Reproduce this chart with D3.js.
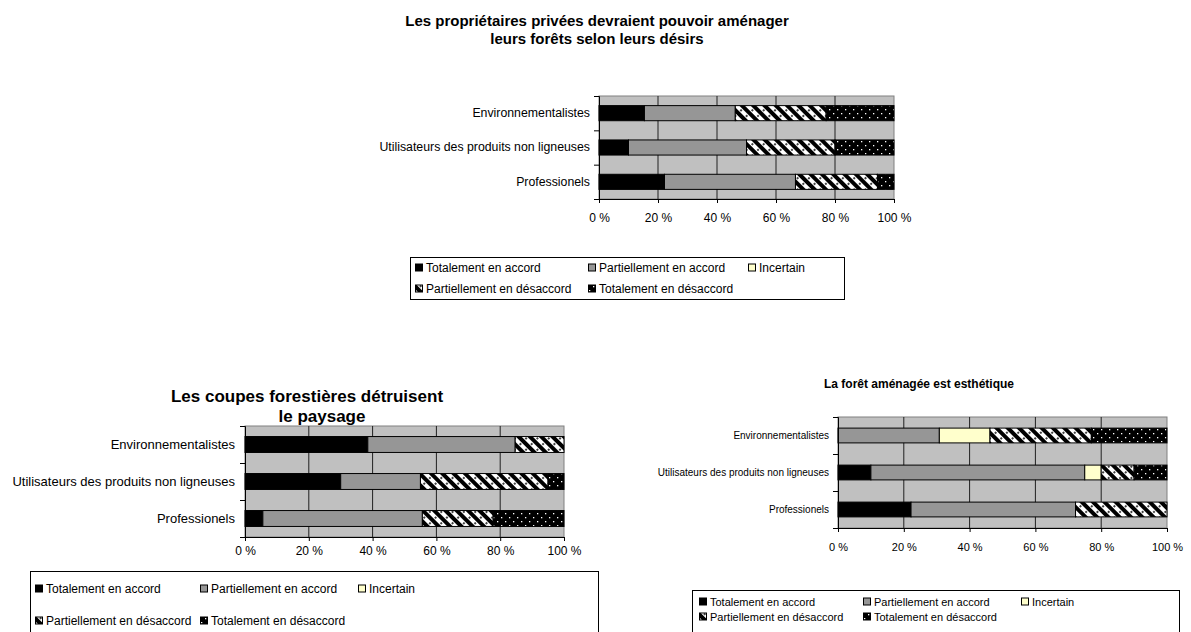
<!DOCTYPE html>
<html>
<head>
<meta charset="utf-8">
<script src="https://cdn.jsdelivr.net/npm/d3@7"></script>
<style>
  body { margin: 0; background: #fff; }
  svg { display: block; font-family: "Liberation Sans", Arial, sans-serif; }
  .domain { stroke: #000; }
  .tick line { stroke: #000; }
</style>
</head>
<body>
<script>
// Categories, series and tick labels
var categories = ["Environnementalistes", "Utilisateurs des produits non ligneuses", "Professionels"];
var seriesNames = ["Totalement en accord", "Partiellement en accord", "Incertain",
                   "Partiellement en désaccord", "Totalement en désaccord"];
var tickValues = [0, 20, 40, 60, 80, 100];
var tickLabels = ["0 %", "20 %", "40 %", "60 %", "80 %", "100 %"];

// Percent per category (same order as seriesNames)
var proprietairesValues = [
  [15.4, 30.8, 0, 30.8, 23.0],
  [10, 40, 0, 30, 20],
  [22.2, 44.4, 0, 27.8, 5.6]
];
var coupesValues = [
  [38.5, 46.2, 0, 15.3, 0],
  [30, 25, 0, 40, 5],
  [5.6, 50, 0, 22.2, 22.2]
];
var esthetiqueValues = [
  [0, 30.8, 15.4, 30.8, 23.0],
  [10, 65, 5, 10, 10],
  [22.2, 50, 0, 27.8, 0]
];

var svg = d3.select("body").append("svg")
  .attr("width", 1191)
  .attr("height", 632);

// fill patterns like the old Excel charts
var defs = svg.append("defs");
var hatch = defs.append("pattern")
  .attr("id", "hatch")
  .attr("patternUnits", "userSpaceOnUse")
  .attr("width", 8).attr("height", 8)
  .attr("patternTransform", "rotate(-45)");
hatch.append("rect").attr("width", 8).attr("height", 8).attr("fill", "#fff");
hatch.append("rect").attr("width", 4).attr("height", 8).attr("fill", "#000");
hatch.append("circle").attr("cx", 6).attr("cy", 2).attr("r", 1).attr("fill", "#000");

var dots = defs.append("pattern")
  .attr("id", "dots")
  .attr("patternUnits", "userSpaceOnUse")
  .attr("width", 8).attr("height", 8);
dots.append("rect").attr("width", 8).attr("height", 8).attr("fill", "#000");
dots.append("rect").attr("x", 1).attr("y", 1).attr("width", 1.3).attr("height", 1.3).attr("fill", "#fff");
dots.append("rect").attr("x", 5).attr("y", 5).attr("width", 1.3).attr("height", 1.3).attr("fill", "#fff");

var fills = ["#000000", "#969696", "#FFFFCC", "url(#hatch)", "url(#dots)"];

function drawChart(opt) {
  var x = d3.scaleLinear().domain([0, 100]).range([opt.left, opt.right]);
  var y = d3.scaleBand().domain(categories)
    .range([opt.top, opt.bottom])
    .paddingInner(opt.pad).paddingOuter(opt.pad / 2);
  var yEdge = d3.scaleLinear().domain([0, categories.length]).range([opt.top, opt.bottom]);

  var g = svg.append("g");

  // plot background
  g.append("rect")
    .attr("x", opt.left).attr("y", opt.top)
    .attr("width", opt.right - opt.left).attr("height", opt.bottom - opt.top)
    .attr("fill", "#C0C0C0")
    .attr("stroke", "#808080");

  // vertical gridlines
  g.selectAll(".grid")
    .data(tickValues.slice(1, -1))
    .enter().append("line")
    .attr("x1", d => x(d)).attr("x2", d => x(d))
    .attr("y1", opt.top).attr("y2", opt.bottom)
    .attr("stroke", "#202020");

  // stacked bars
  var rows = opt.values.map(function(v, i) {
    var o = { cat: categories[i] };
    v.forEach((d, j) => o[j] = d);
    return o;
  });
  var stack = d3.stack().keys(d3.range(seriesNames.length))(rows);

  stack.forEach(function(layer, k) {
    g.selectAll(".s" + k)
      .data(layer.filter(d => d[1] - d[0] > 0))
      .enter().append("rect")
      .attr("x", d => x(d[0]))
      .attr("y", d => y(d.data.cat))
      .attr("width", d => x(d[1]) - x(d[0]))
      .attr("height", y.bandwidth())
      .attr("fill", fills[k])
      .attr("stroke", "#000")
      .attr("stroke-width", 1);
  });

  // x axis
  g.append("g")
    .attr("transform", `translate(0, ${opt.bottom})`)
    .call(d3.axisBottom(x).tickValues(tickValues)
      .tickFormat((d, i) => tickLabels[i]).tickSize(4).tickPadding(opt.tickPad))
    .call(a => a.selectAll("text").attr("font-size", opt.tickFont).attr("fill", "#000")
      .attr("font-family", "Liberation Sans, Arial, sans-serif"));

  // y axis line and ticks at category boundaries
  g.append("g")
    .attr("transform", `translate(${opt.left}, 0)`)
    .call(d3.axisLeft(yEdge).tickValues(d3.range(categories.length + 1)).tickFormat("").tickSize(5));

  // category labels
  g.append("g")
    .attr("transform", `translate(${opt.left}, 0)`)
    .call(d3.axisLeft(y).tickSize(0).tickPadding(opt.labelPad))
    .call(a => a.select(".domain").remove())
    .call(a => a.selectAll("text").attr("font-size", opt.labelFont).attr("fill", "#000")
      .attr("font-family", "Liberation Sans, Arial, sans-serif"));

  // title
  g.selectAll(".title")
    .data(opt.title)
    .enter().append("text")
    .attr("x", (d, i) => opt.titleX[i])
    .attr("y", (d, i) => opt.titleY[i])
    .attr("text-anchor", "middle")
    .attr("font-weight", "bold")
    .attr("font-size", opt.titleFont)
    .text(d => d);

  // legend: three items on the first row, two on the second
  var L = opt.legend;
  g.append("rect")
    .attr("x", L.x).attr("y", L.y).attr("width", L.w).attr("height", L.h)
    .attr("fill", "#fff").attr("stroke", "#000");
  var items = g.selectAll(".leg")
    .data(seriesNames)
    .enter().append("g")
    .attr("transform", function(d, i) {
      var col = i < 3 ? i : i - 3;
      var row = i < 3 ? 0 : 1;
      return `translate(${L.cols[col]}, ${L.rows[row]})`;
    });
  items.append("rect")
    .attr("x", 0.5).attr("y", -L.box / 2 - 0.5)
    .attr("width", L.box).attr("height", L.box)
    .attr("fill", (d, i) => fills[i])
    .attr("stroke", "#000");
  items.append("text")
    .attr("x", L.box + 4)
    .attr("dy", "0.35em")
    .attr("font-size", L.font)
    .text(d => d);
}

drawChart({
  values: proprietairesValues,
  left: 599, right: 894, top: 96, bottom: 199, pad: 0.56,
  tickFont: 12, tickPad: 10, labelFont: 12.3, labelPad: 9,
  title: ["Les propriétaires privées devraient pouvoir aménager", "leurs forêts selon leurs désirs"],
  titleX: [597, 597], titleY: [26, 44], titleFont: 15,
  legend: { x: 410.5, y: 257.5, w: 434, h: 42, cols: [415, 588, 748], rows: [268, 289], box: 7, font: 12 }
});

drawChart({
  values: coupesValues,
  left: 245, right: 564, top: 426, bottom: 537, pad: 0.57,
  tickFont: 12, tickPad: 5, labelFont: 13, labelPad: 10,
  title: ["Les coupes forestières détruisent", "le paysage"],
  titleX: [307, 322], titleY: [402, 422], titleFont: 17,
  legend: { x: 30.5, y: 571.5, w: 568, h: 80, cols: [35, 200, 358], rows: [589, 621], box: 7, font: 12 }
});

drawChart({
  values: esthetiqueValues,
  left: 838, right: 1167, top: 417, bottom: 528, pad: 0.6,
  tickFont: 11, tickPad: 11, labelFont: 10, labelPad: 9,
  title: ["La forêt aménagée est esthétique"],
  titleX: [919], titleY: [388], titleFont: 12,
  legend: { x: 692.5, y: 590.5, w: 487, h: 60, cols: [699, 863, 1021], rows: [602, 617], box: 7, font: 11 }
});
</script>
</body>
</html>
